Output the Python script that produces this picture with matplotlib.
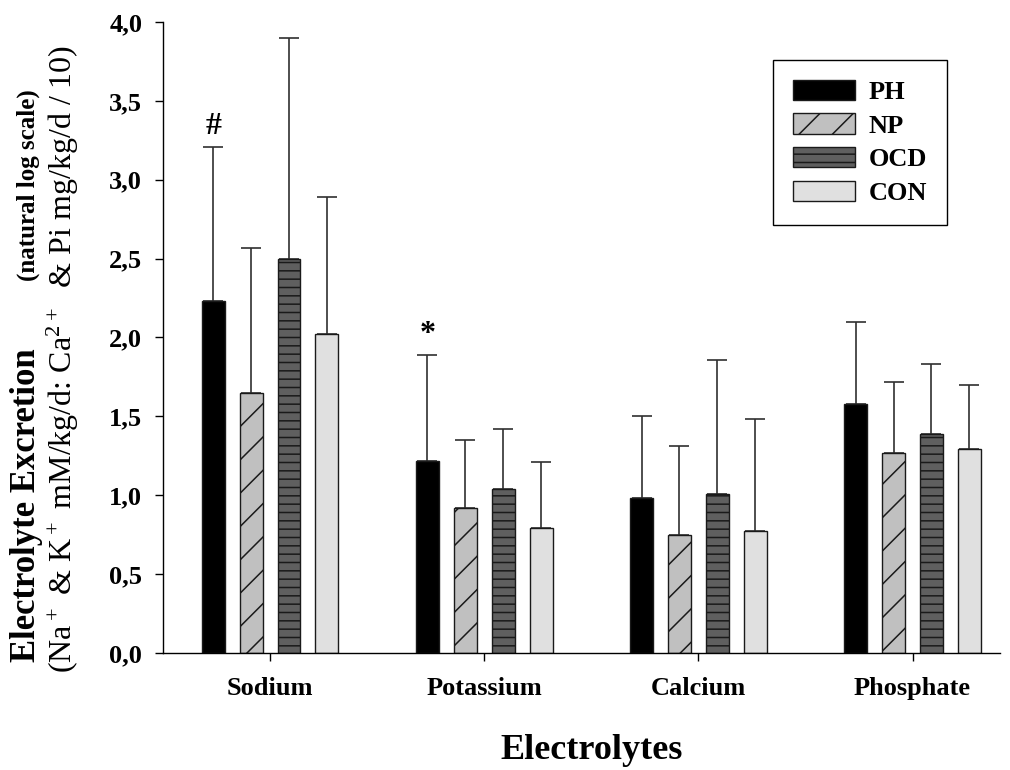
import numpy as np
import matplotlib.pyplot as plt

plt.rcParams['font.family'] = ['Liberation Serif', 'DejaVu Serif']
plt.rcParams['mathtext.fontset'] = 'custom'
plt.rcParams['mathtext.rm'] = 'Liberation Serif'
plt.rcParams['mathtext.bf'] = 'Liberation Serif:bold'
plt.rcParams['hatch.linewidth'] = 1.1

# electrolytes on the x axis, one bar per group
electrolytes = ['Sodium', 'Potassium', 'Calcium', 'Phosphate']
groups = ['PH', 'NP', 'OCD', 'CON']

# bar heights (mean, ln scale)
ph_mean = [2.23, 1.22, 0.98, 1.58]
np_mean = [1.65, 0.92, 0.75, 1.27]
ocd_mean = [2.50, 1.04, 1.01, 1.39]
con_mean = [2.02, 0.79, 0.77, 1.29]

# top of the whiskers (mean + SD)
ph_top = [3.21, 1.89, 1.50, 2.10]
np_top = [2.57, 1.35, 1.31, 1.72]
ocd_top = [3.90, 1.42, 1.86, 1.83]
con_top = [2.89, 1.21, 1.48, 1.70]

# significance marks above the PH bars
ph_marks = ['#', '*', '', '']

y_ticks = [0.0, 0.5, 1.0, 1.5, 2.0, 2.5, 3.0, 3.5, 4.0]

means = [ph_mean, np_mean, ocd_mean, con_mean]
tops = [ph_top, np_top, ocd_top, con_top]
fills = ['#000000', '#c0c0c0', '#5f5f5f', '#e0e0e0']
hatches = ['', '/', '--', '']

fig = plt.figure(figsize=(10.1, 7.7), dpi=100)
ax = fig.add_axes([0.1614, 0.152, 0.829, 0.8195])

x = np.arange(len(electrolytes))
step = 0.177
width = 0.107

for i, g in enumerate(groups):
    xs = x + (i - 1.5) * step
    m = np.array(means[i])
    t = np.array(tops[i])
    ax.bar(xs, m, width=width, color=fills[i], edgecolor='#1a1a1a',
           linewidth=1.0, hatch=hatches[i], zorder=2, label=g)
    ax.errorbar(xs, m, yerr=[np.zeros(len(m)), t - m], fmt='none',
                ecolor='#303030', elinewidth=1.2, capsize=7, capthick=1.2,
                zorder=1)

# # and * marks
for j, mark in enumerate(ph_marks):
    if mark:
        ax.text(x[j] - 1.5 * step, ph_top[j] + 0.13, mark, ha='center',
                va='center', fontsize=23, fontweight='bold')

ax.set_xlim(-0.5, 3.41)
ax.set_ylim(0, 4.0)
ax.set_xticks(x)
ax.set_xticklabels(electrolytes, fontsize=19, fontweight='bold')
ax.set_yticks(y_ticks)
ax.set_yticklabels([f'{v:.1f}'.replace('.', ',') for v in y_ticks],
                   fontsize=19, fontweight='bold')
ax.tick_params(axis='x', direction='out', length=6, width=1, pad=11)
ax.tick_params(axis='y', direction='out', length=6, width=1, pad=9)
ax.spines['top'].set_visible(False)
ax.spines['right'].set_visible(False)
for s in ['left', 'bottom']:
    ax.spines[s].set_linewidth(1.0)

leg = ax.legend(loc='upper left', bbox_to_anchor=(0.729, 0.940),
                borderaxespad=0, prop={'weight': 'bold', 'size': 19},
                handlelength=2.35, handleheight=0.8, handletextpad=0.5,
                labelspacing=0.36, borderpad=0.75, fancybox=False,
                edgecolor='black', framealpha=1)
leg.get_frame().set_linewidth(1.0)

# axis titles
fig.text(0.586, 0.014, 'Electrolytes', ha='center', va='baseline',
         fontsize=26, fontweight='bold')
fig.text(0.0347, 0.140, 'Electrolyte Excretion', rotation=90,
         rotation_mode='anchor', ha='left', va='baseline',
         fontsize=25, fontweight='bold')
fig.text(0.0347, 0.76, '(natural log scale)', rotation=90,
         rotation_mode='anchor', ha='center', va='baseline',
         fontsize=18, fontweight='bold')
fig.text(0.0713, 0.534,
         r'($\mathregular{Na^+}$ & $\mathregular{K^+}$ mM/kg/d: '
         r'$\mathregular{Ca^{2+}}$  & Pi mg/kg/d / 10)',
         rotation=90, rotation_mode='anchor', ha='center', va='baseline',
         fontsize=23)

fig.savefig('out.png', dpi=100)
